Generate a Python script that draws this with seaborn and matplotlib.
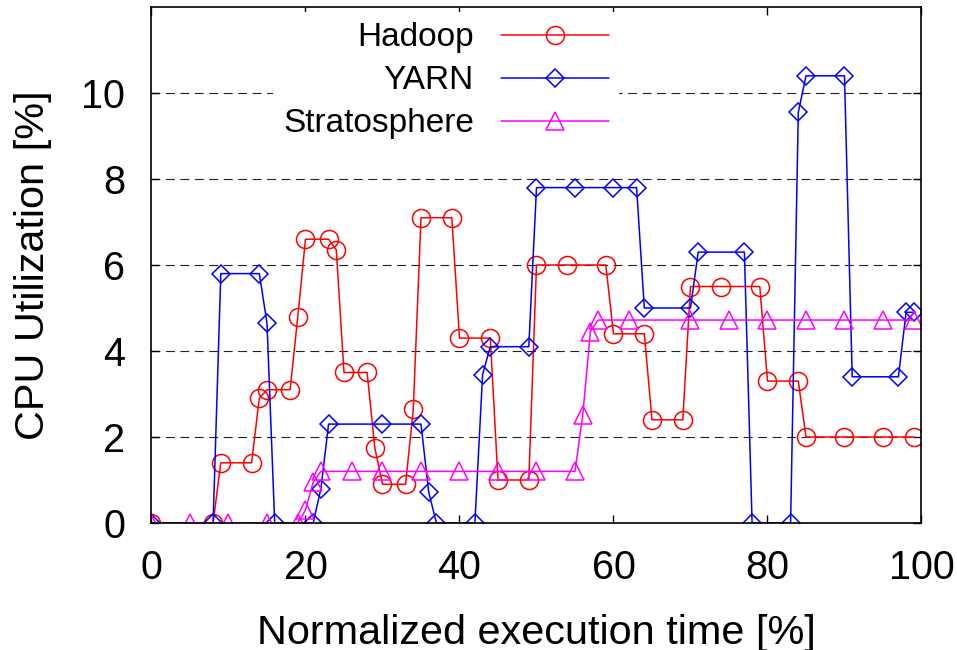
import matplotlib
matplotlib.use('Agg')
import matplotlib.pyplot as plt
import seaborn as sns
import pandas as pd

# DATA
hadoop_x = [0, 8, 9, 13, 14, 15, 18, 19, 20, 23, 24, 25, 28, 29, 30, 33, 34, 35, 39, 40,
            44, 45, 49, 50, 54, 59, 60, 64, 65, 69, 70, 74, 79, 80, 84, 85, 90, 95, 99]
hadoop_y = [0, 0, 1.4, 1.4, 2.9, 3.1, 3.1, 4.8, 6.6, 6.6, 6.35, 3.5, 3.5, 1.75, 0.9, 0.9, 2.65, 7.1, 7.1, 4.3,
            4.3, 1.0, 1.0, 6.0, 6.0, 6.0, 4.4, 4.4, 2.4, 2.4, 5.5, 5.5, 5.5, 3.3, 3.3, 2.0, 2.0, 2.0, 2.0]

yarn_x = [0, 8, 9, 14, 15, 16, 21, 22, 23, 30, 35, 36, 37, 42, 43, 44, 49, 50, 55, 60,
          63, 64, 70, 71, 77, 78, 83, 84, 85, 90, 91, 97, 98, 99]
yarn_y = [0, 0, 5.8, 5.8, 4.65, 0, 0, 0.8, 2.3, 2.3, 2.3, 0.72, 0, 0, 3.45, 4.1, 4.1, 7.8, 7.8, 7.8,
          7.8, 5.0, 5.0, 6.3, 6.3, 0, 0, 9.55, 10.4, 10.4, 3.4, 3.4, 4.9, 4.9]

strato_x = [0, 5, 10, 15, 19, 20, 21, 22, 26, 30, 35, 40, 45, 50, 55, 56, 57, 58, 62, 70,
            75, 80, 85, 90, 95, 99]
strato_y = [0, 0, 0, 0, 0, 0.3, 0.95, 1.2, 1.2, 1.2, 1.2, 1.2, 1.2, 1.2, 1.2, 2.5, 4.45, 4.72, 4.72, 4.72,
            4.72, 4.72, 4.72, 4.72, 4.72, 4.72]

x_ticks = [0, 20, 40, 60, 80, 100]
y_ticks = [0, 2, 4, 6, 8, 10]

series = [
    ("Hadoop", hadoop_x, hadoop_y, "#ff0000", "o", 13),
    ("YARN", yarn_x, yarn_y, "#0000ff", "D", 9),
    ("Stratosphere", strato_x, strato_y, "#ff00ff", "^", 13),
]

sns.set_theme(style="ticks")
plt.rcParams['font.family'] = ['Liberation Sans', 'DejaVu Sans']
plt.rcParams['text.color'] = 'black'
plt.rcParams['axes.labelcolor'] = 'black'

fig, ax = plt.subplots(figsize=(9.57, 6.5), dpi=100)
fig.subplots_adjust(left=0.1583, right=0.9629, top=0.9892, bottom=0.1954)

for name, xs, ys, color, marker, ms in series:
    df = pd.DataFrame({"time": xs, "cpu": ys})
    sns.lineplot(data=df, x="time", y="cpu", ax=ax, color=color, label=name,
                 estimator=None, sort=False, linewidth=1.1,
                 marker=marker, markersize=ms, markerfacecolor="none",
                 markeredgecolor=color, markeredgewidth=1.1)

ax.set_xlim(0, 100)
ax.set_ylim(0, 12)
ax.set_xticks(x_ticks)
ax.set_yticks(y_ticks)
ax.grid(axis="y", color="#222222", linewidth=0.8, linestyle=(0, (8, 5)))
ax.set_axisbelow(True)

ax.tick_params(direction="in", top=True, right=True, length=6, width=1,
               labelsize=28.5, pad=19, colors="black")
for s in ax.spines.values():
    s.set_linewidth(1.2)
    s.set_color("black")

ax.set_xlabel("Normalized execution time [%]", fontsize=29.8, labelpad=19, color="black")
ax.set_ylabel("CPU Utilization [%]", fontsize=29.8, labelpad=21, color="black")

# key: text on the left (right-aligned), sample line + marker on the right
handles, labels = ax.get_legend_handles_labels()
leg = ax.legend(handles, labels, loc="upper right", bbox_to_anchor=(0.607, 0.99),
                markerfirst=False, fontsize=24, handlelength=3.25, handletextpad=0.8,
                labelspacing=0.36, borderpad=0.3, frameon=True, fancybox=False,
                framealpha=1, facecolor="white", edgecolor="none", borderaxespad=0,
                labelcolor="black")
leg.set_zorder(5)

fig.savefig("out.png", dpi=100)
